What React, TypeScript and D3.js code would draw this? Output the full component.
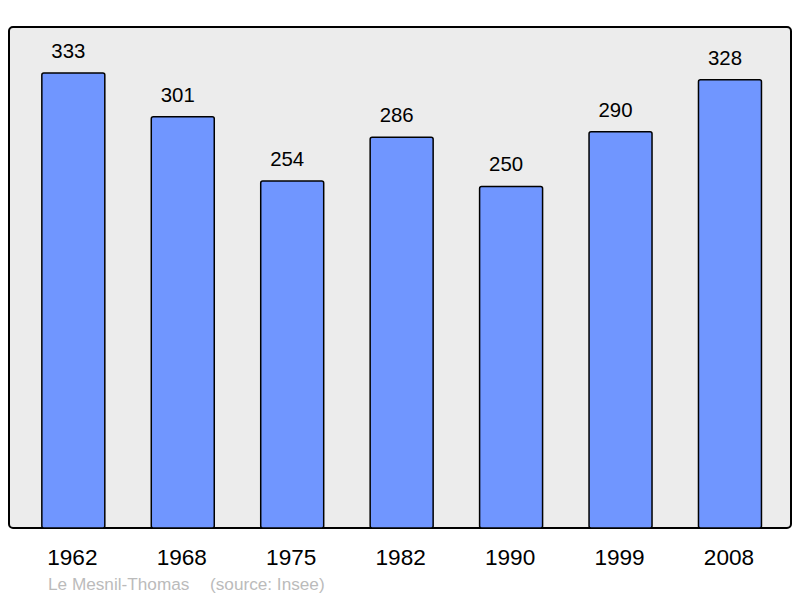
import React from "react";
import { scaleBand, scaleLinear } from "d3";

const years = ["1962", "1968", "1975", "1982", "1990", "1999", "2008"];
const population = [333, 301, 254, 286, 250, 290, 328];
const townName = "Le Mesnil-Thomas";
const sourceNote = "(source: Insee)";

const width = 800;
const height = 598;
const panel = { left: 9, top: 27, right: 791, bottom: 528 };

function App() {
  const xScale = scaleBand<string>()
    .domain(years)
    .range([panel.left, panel.right + 3.3])
    .paddingInner(0.4245)
    .paddingOuter(0.3);

  // 0 sits on the panel floor, top of panel ~ 366.7
  const yScale = scaleLinear().domain([0, 366.7]).range([panel.bottom, panel.top]);

  const font = "'Liberation Sans', Arial, sans-serif";

  return (
    <svg
      width={width}
      height={height}
      style={{ position: "absolute", left: 0, top: 0 }}
      fontFamily={font}
    >
      <rect width={width} height={height} fill="#ffffff" />
      <rect
        x={panel.left}
        y={panel.top}
        width={panel.right - panel.left}
        height={panel.bottom - panel.top}
        rx={4}
        fill="#ececec"
        stroke="#000"
        strokeWidth={2}
      />
      {years.map((year, i) => {
        const x = xScale(year) ?? 0;
        const y = yScale(population[i]);
        const cx = x + xScale.bandwidth() / 2;
        return (
          <g key={year}>
            <rect
              x={x}
              y={y}
              width={xScale.bandwidth()}
              height={panel.bottom - y}
              rx={2}
              fill="#7096ff"
              stroke="#000"
              strokeWidth={1.5}
            />
            <text x={cx - 5} y={y - 15} textAnchor="middle" fontSize={20.4} fill="#000">
              {population[i]}
            </text>
            <text x={cx - 1} y={565} textAnchor="middle" fontSize={22.6} fill="#000">
              {year}
            </text>
          </g>
        );
      })}
      <text x={48} y={590} fontSize={17.2} fill="#bbbbbb">
        {townName}
      </text>
      <text x={210} y={590} fontSize={17.2} fill="#bbbbbb">
        {sourceNote}
      </text>
    </svg>
  );
}

export default App;
